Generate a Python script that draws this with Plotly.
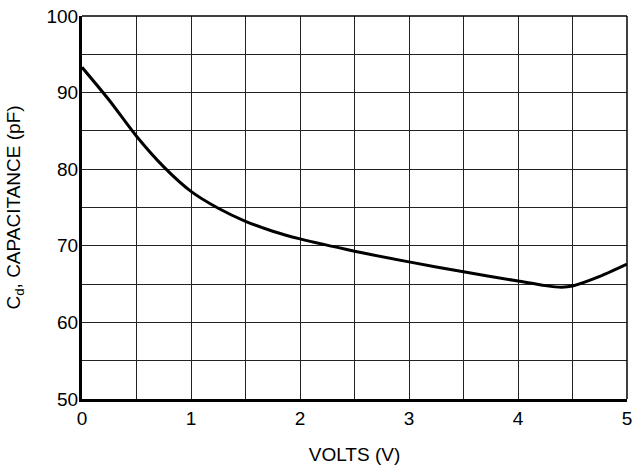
import plotly.graph_objects as go

volts = [0, 0.25, 0.5, 0.75, 1.0, 1.25, 1.5, 1.75, 2.0, 2.5, 3.0, 3.5, 4.0, 4.25, 4.4, 4.5, 4.75, 5.0]
capacitance = [93.3, 89.0, 84.3, 80.3, 77.1, 74.9, 73.2, 71.9, 70.9, 69.3, 67.9, 66.6, 65.4, 64.8, 64.6, 64.75, 66.0, 67.6]

x_ticks = [0, 1, 2, 3, 4, 5]
y_ticks = [50, 60, 70, 80, 90, 100]

font_family = "Liberation Sans, Arial, Helvetica, sans-serif"

fig = go.Figure()
fig.add_trace(go.Scatter(
    x=volts, y=capacitance, mode="lines",
    line=dict(color="black", width=3, shape="spline", smoothing=0.8),
    showlegend=False, hoverinfo="skip",
))

fig.update_layout(
    width=636, height=471,
    margin=dict(l=82, r=4, t=16, b=72),
    paper_bgcolor="white", plot_bgcolor="white",
    font=dict(family=font_family, size=19, color="black"),
    xaxis=dict(
        range=[0, 5], tickmode="array", tickvals=x_ticks,
        ticktext=[str(v) for v in x_ticks],
        showgrid=True, gridcolor="#222", gridwidth=1,
        minor=dict(dtick=0.5, showgrid=True, gridcolor="#222", gridwidth=1),
        showline=True, linecolor="black", linewidth=3,
        ticks="", zeroline=False, ticklabeloverflow="allow",
        title=dict(text="VOLTS (V)", standoff=20, font=dict(size=19)),
    ),
    yaxis=dict(
        range=[50, 100], tickmode="array", tickvals=y_ticks,
        ticktext=[str(v) for v in y_ticks],
        showgrid=True, gridcolor="#222", gridwidth=1,
        minor=dict(dtick=5, showgrid=True, gridcolor="#222", gridwidth=1),
        showline=True, linecolor="black", linewidth=3,
        ticks="", zeroline=False, ticklabelstandoff=-3,
        title=dict(text="C<sub>d</sub>, CAPACITANCE (pF)", standoff=21, font=dict(size=19)),
    ),
    shapes=[
        dict(type="line", xref="paper", yref="paper", x0=0, x1=1, y0=1, y1=1,
             line=dict(color="black", width=1.5)),
        dict(type="line", xref="paper", yref="paper", x0=1, x1=1, y0=0, y1=1,
             line=dict(color="black", width=1.5)),
    ],
)

fig.write_html("out.html", config={"displayModeBar": False},
               post_script="document.body.style.margin='0';document.body.style.overflow='hidden';")
